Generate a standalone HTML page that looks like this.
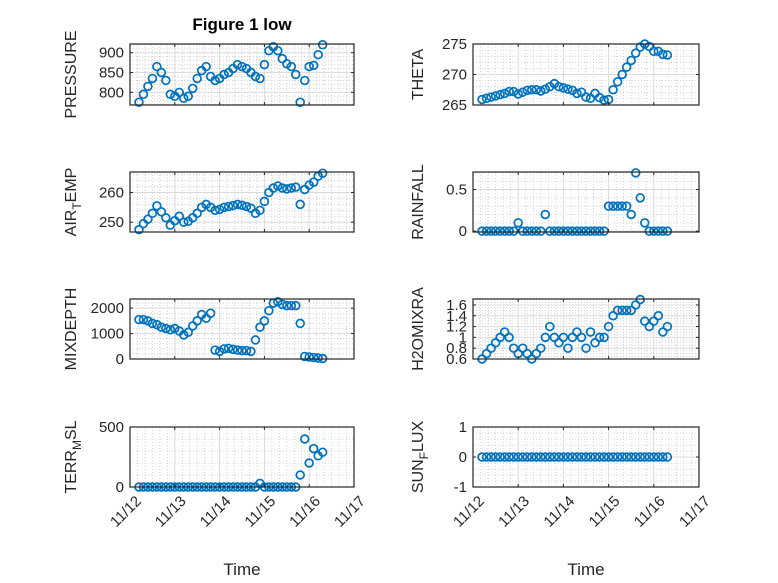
<!DOCTYPE html>
<html><head><meta charset="utf-8"><style>
body{margin:0;background:#fff;}
svg{display:block;font-family:"Liberation Sans",sans-serif;}
</style></head><body>
<svg id="fig" width="778" height="583" viewBox="0 0 778 583" xmlns="http://www.w3.org/2000/svg">
<rect width="778" height="583" fill="#fff"/>
<text x="242" y="30" text-anchor="middle" font-weight="bold" font-size="17" fill="#000">Figure 1 low</text>
</svg>
<script>
const t = [0.2,0.3,0.4,0.5,0.6,0.7,0.8,0.9,1.0,1.1,1.2,1.3,1.4,1.5,1.6,1.7,1.8,1.9,2.0,2.1,2.2,2.3,2.4,2.5,2.6,2.7,2.8,2.9,3.0,3.1,3.2,3.3,3.4,3.5,3.6,3.7,3.8,3.9,4.0,4.1,4.2,4.3];
const pressure = [775,795,815,835,865,850,830,795,790,800,785,790,810,835,855,865,840,830,835,845,850,860,870,865,860,850,840,835,870,905,915,905,885,872,865,845,775,830,865,868,895,920];
const theta = [265.9,266.1,266.3,266.5,266.7,266.9,267.2,267.2,266.8,267.1,267.4,267.5,267.5,267.3,267.6,268.0,268.5,268.0,267.8,267.6,267.4,266.9,267.1,266.3,266.1,266.9,266.2,265.8,265.9,267.5,268.8,270.0,271.2,272.3,273.5,274.5,275.0,274.6,273.8,273.8,273.3,273.2];
const airTemp = [247.5,249.5,251,253,255.5,253.5,251.5,249,250.5,252,250,250.3,251.5,253,255,256,255,254,254.3,255,255.3,255.6,256,255.7,255.3,254.7,253,254,257,260,261.5,262.2,261.5,261.2,261.5,261.8,256,261,262.5,263.5,265.5,266.5];
const rainfall = [0,0,0,0,0,0,0,0,0.1,0,0,0,0,0,0.2,0,0,0,0,0,0,0,0,0,0,0,0,0,0.3,0.3,0.3,0.3,0.3,0.2,0.7,0.4,0.1,0,0,0,0,0];
const mixDepth = [1550,1550,1500,1400,1350,1250,1200,1150,1200,1100,950,1050,1300,1500,1750,1600,1800,350,300,400,420,380,350,330,330,300,750,1250,1500,1900,2200,2250,2150,2100,2100,2100,1400,100,80,60,40,20];
const h2oMix = [0.6,0.7,0.8,0.9,1.0,1.1,1.0,0.8,0.7,0.8,0.7,0.6,0.7,0.8,1.0,1.2,1.0,0.9,1.0,0.8,1.0,1.1,1.0,0.8,1.1,0.9,1.0,1.0,1.2,1.4,1.5,1.5,1.5,1.5,1.6,1.7,1.3,1.2,1.3,1.4,1.1,1.2];
const terrMsl = [0,0,0,0,0,0,0,0,0,0,0,0,0,0,0,0,0,0,0,0,0,0,0,0,0,0,0,30,0,0,0,0,0,0,0,0,100,400,200,320,260,290];
const sunFlux = [0,0,0,0,0,0,0,0,0,0,0,0,0,0,0,0,0,0,0,0,0,0,0,0,0,0,0,0,0,0,0,0,0,0,0,0,0,0,0,0,0,0];
const xTickLabels = ["11/12","11/13","11/14","11/15","11/16","11/17"];
const pressureTicks = [800,850,900];
const thetaTicks = [265,270,275];
const airTicks = [250,260];
const rainTicks = [0,0.5];
const mixTicks = [0,1000,2000];
const h2oTicks = [0.6,0.8,1,1.2,1.4,1.6];
const terrTicks = [0,500];
const sunTicks = [-1,0,1];

const NS="http://www.w3.org/2000/svg";
const svg=document.getElementById('fig');
function mk(tag,attrs,parent){const e=document.createElementNS(NS,tag);for(const k in attrs)e.setAttribute(k,attrs[k]);(parent||svg).appendChild(e);return e;}

const panels=[
 {name:'pressure',x0:130,x1:354,y0:44,y1:105,lim:[768,922],ticks:pressureTicks,minor:10,data:pressure,label:['PRESSURE'],lx:76,xt:false},
 {name:'theta',x0:473,x1:699,y0:44,y1:105,lim:[265,275],ticks:thetaTicks,minor:1,data:theta,label:['THETA'],lx:423,xt:false},
 {name:'air-temp',x0:130,x1:354,y0:172,y1:232,lim:[246.7,266.9],ticks:airTicks,minor:2,data:airTemp,label:['AIR','T','EMP'],lx:76,xt:false},
 {name:'rainfall',x0:473,x1:699,y0:172,y1:232,lim:[-0.01,0.71],ticks:rainTicks,minor:0.1,data:rainfall,label:['RAINFALL'],lx:423,xt:false},
 {name:'mixdepth',x0:130,x1:354,y0:299,y1:359,lim:[0,2360],ticks:mixTicks,minor:200,data:mixDepth,label:['MIXDEPTH'],lx:76,xt:false},
 {name:'h2omixra',x0:473,x1:699,y0:299,y1:359,lim:[0.6,1.71],ticks:h2oTicks,minor:0.05,data:h2oMix,label:['H2OMIXRA'],lx:423,xt:false},
 {name:'terr-msl',x0:130,x1:354,y0:427,y1:487,lim:[0,500],ticks:terrTicks,minor:100,data:terrMsl,label:['TERR','M','SL'],lx:76,xt:true},
 {name:'sun-flux',x0:473,x1:699,y0:427,y1:487,lim:[-1,1],ticks:sunTicks,minor:0.2,data:sunFlux,label:['SUN','F','LUX'],lx:423,xt:true}
];

panels.forEach(p=>{
 const g=mk('g',{});
 
 
 const xs=d=>p.x0+(d/5)*(p.x1-p.x0);
 const ys=v=>p.y1-(v-p.lim[0])/(p.lim[1]-p.lim[0])*(p.y1-p.y0);
 for(let d=0;d<=5.0001;d+=1/6){const x=xs(d);mk('line',{x1:x,x2:x,y1:p.y0,y2:p.y1,stroke:'#c8c8c8','stroke-width':0.8,'stroke-dasharray':'1 2'},g);}
 const start=Math.ceil(p.lim[0]/p.minor)*p.minor;
 for(let v=start;v<=p.lim[1]+1e-9;v+=p.minor){const y=ys(v);mk('line',{x1:p.x0,x2:p.x1,y1:y,y2:y,stroke:'#c8c8c8','stroke-width':0.8,'stroke-dasharray':'1 2'},g);}
 for(let d=1;d<5;d++){const x=xs(d);mk('line',{x1:x,x2:x,y1:p.y0,y2:p.y1,stroke:'#dcdcdc','stroke-width':1},g);}
 p.ticks.forEach(v=>{const y=ys(v);mk('line',{x1:p.x0,x2:p.x1,y1:y,y2:y,stroke:'#dcdcdc','stroke-width':1},g);});
 t.forEach((d,i)=>{
  const c=mk('circle',{cx:xs(d),cy:ys(p.data[i]),r:3.9,fill:'none',stroke:'#0072BD','stroke-width':1.7},g);
  
  
 });
 mk('rect',{x:p.x0,y:p.y0,width:p.x1-p.x0,height:p.y1-p.y0,fill:'none',stroke:'#262626','stroke-width':1.2},g);
 for(let d=0;d<=5;d++){const x=xs(d);mk('line',{x1:x,x2:x,y1:p.y1,y2:p.y1-3,stroke:'#262626'},g);mk('line',{x1:x,x2:x,y1:p.y0,y2:p.y0+3,stroke:'#262626'},g);}
 p.ticks.forEach(v=>{const y=ys(v);mk('line',{x1:p.x0,x2:p.x0+3,y1:y,y2:y,stroke:'#262626'},g);mk('line',{x1:p.x1,x2:p.x1-3,y1:y,y2:y,stroke:'#262626'},g);
  const tx=mk('text',{x:p.x0-6,y:y+5,'text-anchor':'end','font-size':15,fill:'#262626'},g);tx.textContent=String(v);
  
  
 });
 const cy=(p.y0+p.y1)/2;
 const lt=mk('text',{x:0,y:0,transform:`translate(${p.lx},${cy}) rotate(-90)`,'text-anchor':'middle','font-size':16,fill:'#262626'},g);
 
 
 if(p.label.length===1){lt.textContent=p.label[0];}
 else{const a=mk('tspan',{},lt);a.textContent=p.label[0];const b=mk('tspan',{dy:5,'font-size':12},lt);b.textContent=p.label[1];const c=mk('tspan',{dy:-5},lt);c.textContent=p.label[2];}
 if(p.xt){
  xTickLabels.forEach((s,d)=>{const x=xs(d);const tx=mk('text',{x:0,y:0,transform:`translate(${x+12},${p.y1+15}) rotate(-45)`,'text-anchor':'end','font-size':15,fill:'#262626'},g);tx.textContent=s;
   
   });
  const xt=mk('text',{x:(p.x0+p.x1)/2,y:575,'text-anchor':'middle','font-size':17,fill:'#262626'},g);xt.textContent='Time';
  
  
 }
});
</script>
</body></html>
